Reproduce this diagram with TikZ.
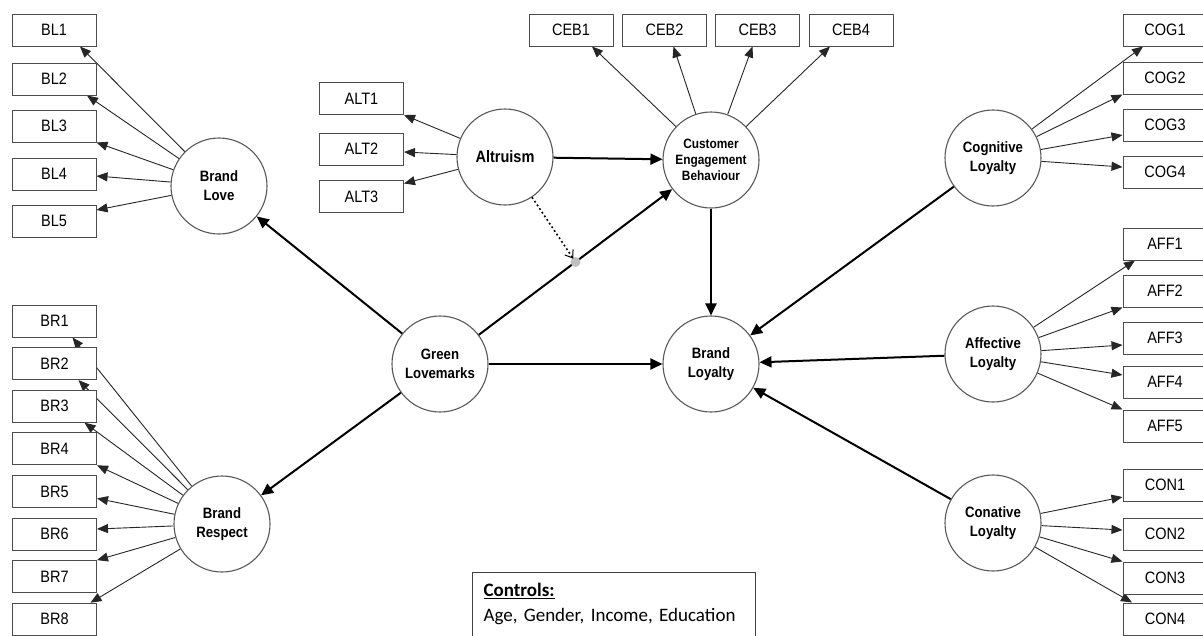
\documentclass[tikz,border=0pt]{standalone}
\usepackage{fontspec}
\setmainfont{Liberation Sans}[FakeStretch=0.88]
\newfontfamily\ctrlfont{Carlito}
\usetikzlibrary{arrows.meta,backgrounds,calc}
\begin{document}
\begin{tikzpicture}[x=1pt,y=-1pt,
  ind/.style={draw=black!70, line width=1pt, fill=white, minimum width=84pt, minimum height=32pt, inner sep=0pt, font=\fontsize{16.5}{18}\selectfont},
  lat/.style={circle, draw=black!65, line width=1.1pt, fill=white, minimum size=96pt, inner sep=0pt, align=center, font=\fontsize{15}{19}\selectfont\bfseries},
  meas/.style={draw=black!85, line width=0.9pt, -{Triangle[length=11pt,width=9pt]}},
  struct/.style={draw=black, line width=2pt, -{Triangle[length=12pt,width=11pt]}},
  modline/.style={draw=black, line width=1.6pt, dash pattern=on 1.8pt off 2.6pt, shorten >=4pt, -{Straight Barb[length=7pt,width=10pt,line width=1pt]}},
  ctrlbox/.style={draw=black!75, line width=1pt, fill=white, anchor=north west, inner xsep=11pt, inner ysep=11pt, text width=261pt, align=left, font=\ctrlfont\fontsize{19}{25}\selectfont}
]
\useasboundingbox (0,0) rectangle (1203,635);
\clip (0,0) rectangle (1203,635);

% latent constructs
\node[lat] (blove) at (219,186) {Brand\\Love};
\node[lat] (bresp) at (222,524) {Brand\\Respect};
\node[lat, font=\fontsize{16.5}{19}\selectfont\bfseries] (alt) at (505,157) {Altruism};
\node[lat, font=\fontsize{13.5}{16}\selectfont\bfseries] (ceb) at (711,160) {Customer\\Engagement\\Behaviour};
\node[lat] (gl) at (440,364) {Green\\Lovemarks};
\node[lat] (bloy) at (711,364) {Brand\\Loyalty};
\node[lat] (cog) at (993,158) {Cognitive\\Loyalty};
\node[lat] (aff) at (993,354) {Affective\\Loyalty};
\node[lat] (con) at (993,523) {Conative\\Loyalty};

% indicators
\foreach \i/\y in {1/30,2/79,3/126,4/174,5/221}
  \node[ind] (BL\i) at (54,\y) {BL\i};
\foreach \i/\y in {1/321,2/363.6,3/406.2,4/448.8,5/491.4,6/534,7/576.6,8/619.2}
  \node[ind] (BR\i) at (54.5,\y) {BR\i};
\foreach \i/\y in {1/98.5,2/149,3/196.5}
  \node[ind] (ALT\i) at (361.5,\y) {ALT\i};
\foreach \i/\x in {1/571,2/664.5,3/757.5,4/851}
  \node[ind] (CEB\i) at (\x,30) {CEB\i};
\foreach \i/\y in {1/30,2/78,3/125,4/172}
  \node[ind] (COG\i) at (1165,\y) {COG\i};
\foreach \i/\y in {1/244,2/291,3/338,4/382,5/426}
  \node[ind] (AFF\i) at (1165,\y) {AFF\i};
\foreach \i/\y in {1/485,2/534,3/578,4/619}
  \node[ind] (CON\i) at (1165,\y) {CON\i};

% controls
\node[ctrlbox] (ctrl) at (472,572) {\underline{\textbf{Controls:}}\\Age, Gender, Income, Education};

% measurement arrows (under the boxes)
\begin{pgfonlayer}{background}
\fill[white] (0,0) rectangle (1203,635);
\draw[meas] (blove) -- ([xshift=26pt]BL1.south);
\draw[meas] (blove) -- ([xshift=33pt]BL2.south);
\draw[meas] (blove) -- (BL3.south east);
\draw[meas] (blove) -- ([yshift=-2pt]BL4.east);
\draw[meas] (blove) -- ([yshift=11pt]BL5.east);

\draw[meas] (bresp) -- ([xshift=18pt]BR1.south);
\draw[meas] (bresp) -- ([xshift=24pt]BR2.south);
\draw[meas] (bresp) -- ([xshift=30pt]BR3.south);
\draw[meas] (bresp) -- (BR4.south east);
\draw[meas] (bresp) -- ([yshift=-7pt]BR5.east);
\draw[meas] (bresp) -- ([yshift=5pt]BR6.east);
\draw[meas] (bresp) -- (BR7.north east);
\draw[meas] (bresp) -- ([xshift=36pt]BR8.north);

\draw[meas] (alt) -- (ALT1.south east);
\draw[meas] (alt) -- ([yshift=-3pt]ALT2.east);
\draw[meas] (alt) -- ([yshift=13pt]ALT3.east);

\draw[meas] (ceb) -- ([xshift=21pt]CEB1.south);
\draw[meas] (ceb) -- ([xshift=9pt]CEB2.south);
\draw[meas] (ceb) -- ([xshift=-5pt]CEB3.south);
\draw[meas] (ceb) -- ([xshift=-21pt]CEB4.south);

\draw[meas] (cog) -- ([xshift=-22pt]COG1.south);
\draw[meas] (cog) -- (COG2.south west);
\draw[meas] (cog) -- ([yshift=-10pt]COG3.west);
\draw[meas] (cog) -- ([yshift=5pt]COG4.west);

\draw[meas] (aff) -- ([xshift=-30pt]AFF1.south);
\draw[meas] (aff) -- (AFF2.south west);
\draw[meas] (aff) -- ([yshift=-7pt]AFF3.west);
\draw[meas] (aff) -- ([yshift=7pt]AFF4.west);
\draw[meas] (aff) -- (AFF5.north west);

\draw[meas] (con) -- ([yshift=-12pt]CON1.west);
\draw[meas] (con) -- ([yshift=4pt]CON2.west);
\draw[meas] (con) -- (CON3.north west);
\draw[meas] (con) -- ([xshift=-33pt]CON4.north);
\end{pgfonlayer}

% structural paths
\draw[struct] (gl) -- (blove);
\draw[struct] (gl) -- (bresp);
\draw[struct] (gl) -- coordinate (mod) (ceb);
\draw[struct] (gl) -- (bloy);
\draw[struct] (alt) -- (ceb);
\draw[struct] (ceb) -- (bloy);
\draw[struct] (cog) -- (bloy);
\draw[struct] (aff) -- (bloy);
\draw[struct] (con) -- (bloy);

% moderation
\fill[gray!50] (mod) circle[radius=5pt];
\draw[modline] (alt) -- (mod);
\end{tikzpicture}
\end{document}
